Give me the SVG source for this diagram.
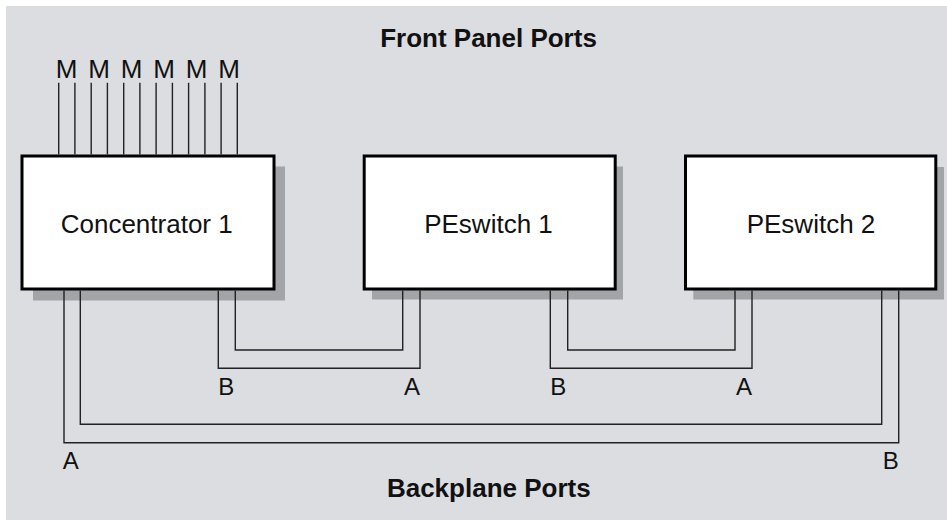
<svg xmlns="http://www.w3.org/2000/svg" width="947" height="520" viewBox="0 0 947 520">
<style>
.bg{fill:#dcdde0}
.shadow{fill:#a3a4a8}
.box{fill:#ffffff;stroke:#000000;stroke-width:3}
.lbl{font-family:"Liberation Sans",Arial,sans-serif;font-size:26px;fill:#111}
.port{font-family:"Liberation Sans",Arial,sans-serif;font-size:24px;fill:#111}
.title{font-family:"Liberation Sans",Arial,sans-serif;font-size:26px;font-weight:bold;fill:#111}
.wire{fill:none;stroke:#222;stroke-width:1.4}
</style>
<rect class="bg" x="6" y="6" width="941" height="514"/>
<text class="title" x="488.5" y="47.3" text-anchor="middle">Front Panel Ports</text>
<text class="title" x="488.8" y="497.3" text-anchor="middle">Backplane Ports</text>

<g id="concentrator1">
<rect class="shadow" x="33" y="166.5" width="252" height="134"/>
<rect class="box" x="22" y="156" width="252" height="133"/>
<text class="lbl" x="146.7" y="232.7" text-anchor="middle">Concentrator 1</text>
</g>
<g id="peswitch1">
<rect class="shadow" x="372" y="166.5" width="251" height="133"/>
<rect class="box" x="364.2" y="156" width="251" height="133"/>
<text class="lbl" x="488.5" y="232.7" text-anchor="middle">PEswitch 1</text>
</g>
<g id="peswitch2">
<rect class="shadow" x="693.3" y="167" width="250.7" height="132.5"/>
<rect class="box" x="685.5" y="156" width="250.3" height="133"/>
<text class="lbl" x="811" y="232.7" text-anchor="middle">PEswitch 2</text>
</g>

<g id="front-ports">
<text class="lbl" x="66.5" y="78.3" text-anchor="middle">M</text>
<text class="lbl" x="99" y="78.3" text-anchor="middle">M</text>
<text class="lbl" x="131.5" y="78.3" text-anchor="middle">M</text>
<text class="lbl" x="164" y="78.3" text-anchor="middle">M</text>
<text class="lbl" x="196.5" y="78.3" text-anchor="middle">M</text>
<text class="lbl" x="229" y="78.3" text-anchor="middle">M</text>
</g>

<g id="connectors">
<path class="wire" d="M58.7 82.7V154.5M74.9 82.7V154.5M91.2 82.7V154.5M107.4 82.7V154.5M123.7 82.7V154.5M139.9 82.7V154.5M156.1 82.7V154.5M172.4 82.7V154.5M188.6 82.7V154.5M204.9 82.7V154.5M221.1 82.7V154.5M237.3 82.7V154.5"/>
<path class="wire" d="M218.3 290.5V368.3H420V290.5"/>
<path class="wire" d="M235.3 290.5V350H402.7V290.5"/>
<path class="wire" d="M550.3 290.5V368.3H752V290.5"/>
<path class="wire" d="M567.7 290.5V350H735V290.5"/>
<path class="wire" d="M64 290.5V442.7H898.7V290.5"/>
<path class="wire" d="M80.3 290.5V424.3H881.7V290.5"/>
</g>

<g id="backplane-labels">
<text class="port" x="218.3" y="395">B</text>
<text class="port" x="420" y="395" text-anchor="end">A</text>
<text class="port" x="550.3" y="395">B</text>
<text class="port" x="752" y="395" text-anchor="end">A</text>
<text class="port" x="62.8" y="469">A</text>
<text class="port" x="898.7" y="469" text-anchor="end">B</text>
</g>
</svg>
